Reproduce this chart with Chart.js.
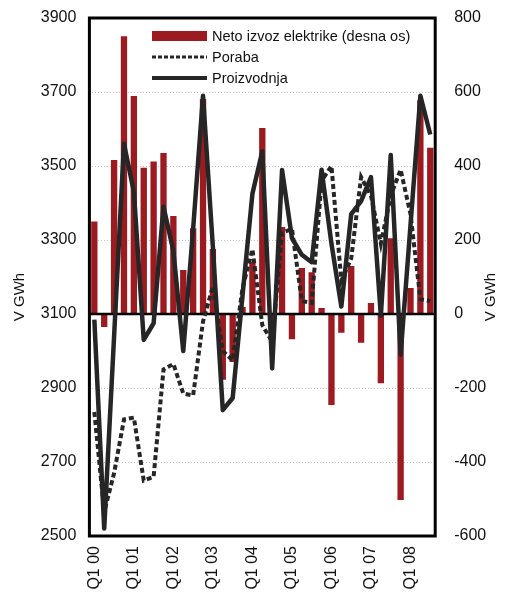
<!DOCTYPE html>
<html lang="sl">
<head>
  <meta charset="UTF-8" />
  <title>Proizvodnja in poraba elektrike</title>
  <script src="https://cdn.jsdelivr.net/npm/chart.js@4"></script>
  <style>
    html, body {
      margin: 0;
      padding: 0;
      background: #fff;
    }
    #wrap {
      width: 505px;
      height: 594px;
      position: relative;
    }
  </style>
</head>
<body>
  <div id="wrap"><canvas id="graf"></canvas></div>

  <script>
    // četrtletja Q1 00 - Q3 08
    const cetrtletja = [
      'Q1 00','Q2 00','Q3 00','Q4 00',
      'Q1 01','Q2 01','Q3 01','Q4 01',
      'Q1 02','Q2 02','Q3 02','Q4 02',
      'Q1 03','Q2 03','Q3 03','Q4 03',
      'Q1 04','Q2 04','Q3 04','Q4 04',
      'Q1 05','Q2 05','Q3 05','Q4 05',
      'Q1 06','Q2 06','Q3 06','Q4 06',
      'Q1 07','Q2 07','Q3 07','Q4 07',
      'Q1 08','Q2 08','Q3 08'
    ];

    // neto izvoz (desna os), V GWh
    const netoIzvoz = [
      250, -35, 416, 751, 589, 395, 412, 435,
      265, 119, 232, 581, 176, -178, -130, 19,
      141, 503, -40, 235, -68, 124, 113, 16,
      -246, -51, 130, -78, 30, -187, 205, -503,
      70, 578, 449
    ];

    // poraba (leva os)
    const poraba = [
      2835, 2565, 2670, 2815, 2820, 2650, 2660, 2950,
      2965, 2885, 2880, 3080, 3175, 3000, 2975, 3170,
      3275, 3070, 3025, 3320, 3330, 3135, 3130, 3460,
      3500, 3190, 3250, 3470, 3420, 3290, 3420, 3490,
      3370, 3140, 3135
    ];

    // proizvodnja (leva os)
    const proizvodnja = [
      3085, 2520, 3040, 3560, 3430, 3030, 3075, 3390,
      3270, 3000, 3330, 3690, 3280, 2840, 2873, 3150,
      3425, 3540, 2953, 3489, 3305, 3260, 3240, 3490,
      3290, 3120, 3370, 3405, 3470, 3095, 3530, 2990,
      3340, 3690, 3585
    ];

    const levaOs = { min: 2500, max: 3900, korak: 200 };
    const desnaOs = { min: -600, max: 800, korak: 200 };

    const legenda = [
      { tip: 'bar', tekst: 'Neto izvoz elektrike (desna os)' },
      { tip: 'dash', tekst: 'Poraba' },
      { tip: 'line', tekst: 'Proizvodnja' }
    ];

    const RDECA = '#9b1b20';
    const CRNA = '#262626';
    const CRTKE = [5, 3];
    const pisava = '"Liberation Sans", Arial, sans-serif';

    // okvir, ničelna črta, legenda in naslova osi
    const okvirPlugin = {
      id: 'okvir',
      afterDatasetDraw(chart, args) {
        if (args.index !== 0) return;
        const ctx = chart.ctx;
        const a = chart.chartArea;
        const y0 = chart.scales.y2.getPixelForValue(0);
        ctx.save();
        ctx.strokeStyle = '#000';
        ctx.lineWidth = 2.5;
        ctx.beginPath();
        ctx.moveTo(a.left, y0);
        ctx.lineTo(a.right, y0);
        ctx.stroke();
        ctx.restore();
      },
      afterDraw(chart) {
        const ctx = chart.ctx;
        const a = chart.chartArea;
        ctx.save();
        ctx.strokeStyle = '#000';
        ctx.lineWidth = 3;
        ctx.strokeRect(a.left, a.top, a.right - a.left, a.bottom - a.top);

        // legenda
        ctx.font = '14.5px ' + pisava;
        ctx.textBaseline = 'middle';
        const lx = 152, lw = 55;
        legenda.forEach((l, i) => {
          const y = 36 + i * 21;
          if (l.tip === 'bar') {
            ctx.fillStyle = RDECA;
            ctx.fillRect(lx, y - 5, lw, 10);
          } else {
            ctx.strokeStyle = CRNA;
            ctx.lineWidth = l.tip === 'dash' ? 3 : 4;
            ctx.setLineDash(l.tip === 'dash' ? [4, 2] : []);
            ctx.beginPath();
            ctx.moveTo(lx, y);
            ctx.lineTo(lx + lw, y);
            ctx.stroke();
            ctx.setLineDash([]);
          }
          ctx.fillStyle = '#111';
          ctx.fillText(l.tekst, lx + lw + 5, y + 1);
        });

        // naslova osi
        ctx.font = '15px ' + pisava;
        ctx.textAlign = 'center';
        [20, 491].forEach(x => {
          ctx.save();
          ctx.translate(x, 297);
          ctx.rotate(-Math.PI / 2);
          ctx.fillText('V GWh', 0, 0);
          ctx.restore();
        });
        ctx.restore();
      }
    };

    // fiksna velikost osi, brez dodatnega odmika zgoraj/spodaj
    function fiksnaSirina(w) {
      return s => {
        s.width = w;
        s.paddingTop = 0;
        s.paddingBottom = 0;
      };
    }

    new Chart(document.getElementById('graf'), {
      data: {
        labels: cetrtletja,
        datasets: [
          {
            type: 'bar',
            label: 'Neto izvoz elektrike (desna os)',
            data: netoIzvoz,
            yAxisID: 'y2',
            backgroundColor: RDECA,
            barPercentage: 0.64,
            categoryPercentage: 1,
            order: 3
          },
          {
            type: 'line',
            label: 'Poraba',
            data: poraba,
            yAxisID: 'y',
            borderColor: CRNA,
            borderWidth: 4,
            borderDash: CRTKE,
            pointRadius: 0,
            tension: 0,
            fill: false,
            order: 2
          },
          {
            type: 'line',
            label: 'Proizvodnja',
            data: proizvodnja,
            yAxisID: 'y',
            borderColor: CRNA,
            borderWidth: 4.5,
            borderJoinStyle: 'round',
            pointRadius: 0,
            tension: 0,
            fill: false,
            order: 1
          }
        ]
      },
      options: {
        responsive: true,
        maintainAspectRatio: false,
        animation: false,
        layout: { padding: { top: 18, left: 0, right: 0, bottom: 0 } },
        plugins: {
          legend: { display: false },
          tooltip: { enabled: false }
        },
        scales: {
          x: {
            offset: true,
            grid: { display: false, drawTicks: false },
            border: { display: false },
            ticks: {
              autoSkip: false,
              maxRotation: 90,
              minRotation: 90,
              padding: 10,
              color: '#111',
              font: { size: 16, family: pisava },
              callback: (v, i) => (i % 4 === 0 ? cetrtletja[i] : '')
            },
            afterFit: s => { s.height = 58; }
          },
          y: {
            position: 'left',
            min: levaOs.min,
            max: levaOs.max,
            grid: {
              drawTicks: false,
              color: c => (c.tick.value === 3100 || c.tick.value === levaOs.min || c.tick.value === levaOs.max) ? 'transparent' : '#c4c4c4',
              lineWidth: 1
            },
            border: { display: false, dash: [1, 2] },
            ticks: {
              stepSize: levaOs.korak,
              padding: 13,
              color: '#111',
              font: { size: 16, family: pisava },
              callback: v => String(v)
            },
            afterFit: fiksnaSirina(89.4)
          },
          y2: {
            position: 'right',
            min: desnaOs.min,
            max: desnaOs.max,
            grid: { display: false, drawTicks: false },
            border: { display: false },
            ticks: {
              stepSize: desnaOs.korak,
              padding: 19,
              color: '#111',
              font: { size: 16, family: pisava },
              callback: v => String(v)
            },
            afterFit: fiksnaSirina(69.8)
          }
        }
      },
      plugins: [okvirPlugin]
    });
  </script>
</body>
</html>
